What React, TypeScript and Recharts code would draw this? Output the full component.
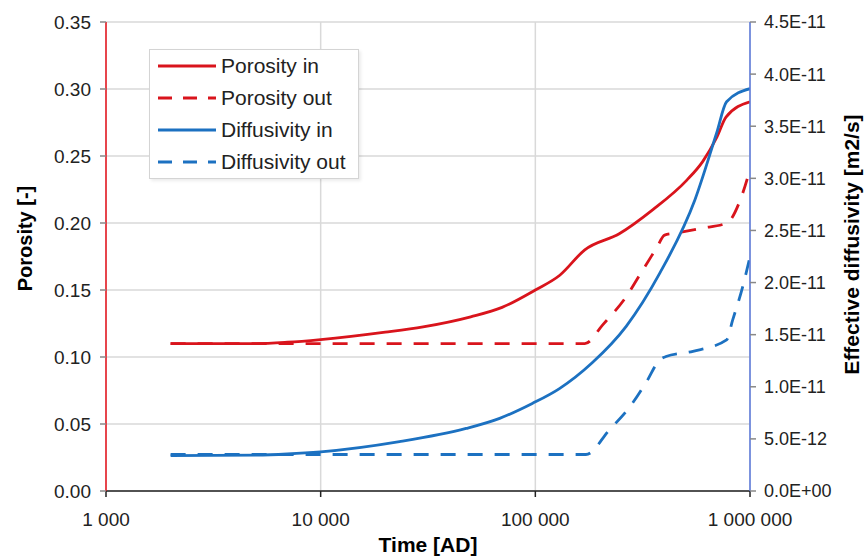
import React from 'react';
import { LineChart, Line, XAxis, YAxis, CartesianGrid, Legend } from 'recharts';

const FONT = '"Liberation Sans", Arial, sans-serif';
const RED = '#d9141c';
const BLUE = '#1c71c1';
const TEXT = '#222222';
const GRID = '#d9d9d9';

// time axis, years AD (log scale)
const timeTicks = [1000, 10000, 100000, 1000000];
const minorTimeTicks = [
  1000, 2000, 3000, 4000, 5000, 6000, 7000, 8000, 9000,
  10000, 20000, 30000, 40000, 50000, 60000, 70000, 80000, 90000,
  100000, 200000, 300000, 400000, 500000, 600000, 700000, 800000, 900000, 1000000,
];
const porosityTicks = [0, 0.05, 0.1, 0.15, 0.2, 0.25, 0.3, 0.35];
const diffusivityTicks = [0, 5e-12, 1e-11, 1.5e-11, 2e-11, 2.5e-11, 3e-11, 3.5e-11, 4e-11, 4.5e-11];

const legendOrder = ['Porosity in', 'Porosity out', 'Diffusivity in', 'Diffusivity out'];

// Porosity in
const porosityInTime = [2000, 5000, 7000, 10000, 20000, 30000, 50000, 70000, 100000, 130000, 170000, 246000, 353000, 508000, 603000, 701000, 773000, 1000000];
const porosityInValue = [0.11, 0.11, 0.111, 0.113, 0.1185, 0.1225, 0.13, 0.137, 0.15, 0.161, 0.18, 0.192, 0.21, 0.232, 0.246, 0.264, 0.279, 0.2905];

// Porosity out
const porosityOutTime = [2000, 170000, 206000, 265000, 314000, 369000, 400000, 454000, 590000, 780000, 900000, 1000000];
const porosityOutValue = [0.11, 0.11, 0.124, 0.145, 0.164, 0.182, 0.191, 0.1925, 0.196, 0.2, 0.217, 0.24];

// Diffusivity in
const diffusivityInTime = [2000, 5000, 7000, 10000, 23300, 47600, 68200, 96800, 129000, 184000, 265000, 380000, 553000, 698000, 778000, 1000000];
const diffusivityInValue = [3.4e-12, 3.45e-12, 3.55e-12, 3.75e-12, 4.73e-12, 6.0e-12, 6.97e-12, 8.4e-12, 9.8e-12, 1.23e-11, 1.58e-11, 2.09e-11, 2.79e-11, 3.43e-11, 3.735e-11, 3.86e-11];

// Diffusivity out
const diffusivityOutTime = [2000, 172000, 221000, 276000, 330000, 380000, 406000, 542000, 778000, 830000, 925000, 1000000];
const diffusivityOutValue = [3.5e-12, 3.5e-12, 5.85e-12, 8.1e-12, 1.05e-11, 1.26e-11, 1.29e-11, 1.34e-11, 1.45e-11, 1.64e-11, 1.96e-11, 2.25e-11];

const toPoints = (times: number[], values: number[]) => times.map((t, i) => ({ t, v: values[i] }));

const porosityIn = toPoints(porosityInTime, porosityInValue);
const porosityOut = toPoints(porosityOutTime, porosityOutValue);
const diffusivityIn = toPoints(diffusivityInTime, diffusivityInValue);
const diffusivityOut = toPoints(diffusivityOutTime, diffusivityOutValue);

const DASH = '15 12';

const formatTime = (v: number) => String(Math.round(v)).replace(/\B(?=(\d{3})+(?!\d))/g, ' ');
const formatPorosity = (v: number) => v.toFixed(2);
const formatDiffusivity = (v: number) => {
  if (v === 0) return '0.0E+00';
  const exp = Math.floor(Math.log10(v) + 1e-9);
  const mant = v / Math.pow(10, exp);
  const sign = exp < 0 ? '-' : '+';
  return `${mant.toFixed(1)}E${sign}${String(Math.abs(exp)).padStart(2, '0')}`;
};

const renderLegend = (props: any) => {
  const items = [...(props.payload || [])].sort(
    (a: any, b: any) => legendOrder.indexOf(a.value) - legendOrder.indexOf(b.value)
  );
  return (
    <div
      style={{
        border: '1px solid #d4d4d4',
        background: '#ffffff',
        boxShadow: '2px 2px 3px rgba(0,0,0,0.08)',
        padding: '0 0 0 8px',
        fontFamily: FONT,
        fontSize: 21,
        color: TEXT,
      }}
    >
      {items.map((entry: any) => (
        <div key={entry.value} style={{ display: 'flex', alignItems: 'center', height: 32 }}>
          <svg width={60} height={10} style={{ display: 'block' }}>
            <line
              x1={0}
              y1={5}
              x2={58}
              y2={5}
              stroke={entry.color}
              strokeWidth={3}
              strokeDasharray={entry.payload && entry.payload.strokeDasharray ? '14 11' : undefined}
            />
          </svg>
          <span style={{ marginLeft: 3, whiteSpace: 'nowrap' }}>{entry.value}</span>
        </div>
      ))}
    </div>
  );
};

export default function App() {
  return (
    <div style={{ position: 'absolute', left: 0, top: 0, background: '#ffffff' }}>
      <LineChart width={867} height={558} margin={{ top: 22, right: 0, bottom: 0, left: 0 }}>
        <CartesianGrid yAxisId="left" stroke={GRID} strokeWidth={1.5} />
        <XAxis
          type="number"
          dataKey="t"
          scale="log"
          domain={[1000, 1000000]}
          ticks={timeTicks}
          allowDataOverflow
          tickFormatter={formatTime}
          height={67}
          tickSize={6}
          tickMargin={16}
          axisLine={{ stroke: '#222', strokeWidth: 1.5 }}
          tickLine={{ stroke: '#222', strokeWidth: 1.5 }}
          tick={{ fill: TEXT, fontSize: 19, fontFamily: FONT }}
          label={{
            value: 'Time [AD]',
            position: 'insideBottom',
            offset: 6,
            style: { fill: '#000', fontSize: 21, fontWeight: 'bold', fontFamily: FONT },
          }}
        />
        <XAxis
          xAxisId="minor"
          type="number"
          dataKey="t"
          scale="log"
          domain={[1000, 1000000]}
          ticks={minorTimeTicks}
          allowDataOverflow
          mirror
          axisLine={false}
          tick={false}
          tickSize={5}
          tickLine={{ stroke: '#222', strokeWidth: 1.5 }}
        />
        <YAxis
          yAxisId="left"
          type="number"
          domain={[0, 0.35]}
          ticks={porosityTicks}
          tickFormatter={formatPorosity}
          width={106}
          tickSize={6}
          tickMargin={9}
          axisLine={{ stroke: '#e8101a', strokeWidth: 1.5 }}
          tickLine={{ stroke: '#888', strokeWidth: 1.5 }}
          tick={{ fill: TEXT, fontSize: 19, fontFamily: FONT }}
          label={{
            value: 'Porosity [-]',
            angle: -90,
            position: 'insideLeft',
            offset: 25,
            dy: -18,
            style: { textAnchor: 'middle', fill: '#000', fontSize: 20, fontWeight: 'bold', fontFamily: FONT },
          }}
        />
        <YAxis
          yAxisId="right"
          orientation="right"
          type="number"
          domain={[0, 4.5e-11]}
          ticks={diffusivityTicks}
          tickFormatter={formatDiffusivity}
          width={117}
          tickSize={6}
          tickMargin={8}
          axisLine={{ stroke: '#5a78dc', strokeWidth: 1.5 }}
          tickLine={{ stroke: '#888', strokeWidth: 1.5 }}
          tick={{ fill: TEXT, fontSize: 18, fontFamily: FONT }}
          label={{
            value: 'Effective diffusivity [m2/s]',
            angle: -90,
            position: 'insideRight',
            offset: 15,
            dy: -12,
            style: { textAnchor: 'middle', fill: '#000', fontSize: 21, fontWeight: 'bold', fontFamily: FONT },
          }}
        />
        <Legend
          layout="vertical"
          align="center"
          verticalAlign="middle"
          content={renderLegend}
          wrapperStyle={{ left: 149, top: 49, width: 210 }}
        />
        <Line
          yAxisId="left"
          data={porosityIn}
          dataKey="v"
          name="Porosity in"
          type="monotoneX"
          stroke={RED}
          strokeWidth={2.8}
          dot={false}
          isAnimationActive={false}
        />
        <Line
          yAxisId="left"
          data={porosityOut}
          dataKey="v"
          name="Porosity out"
          type="monotoneX"
          stroke={RED}
          strokeWidth={2.8}
          strokeDasharray={DASH}
          dot={false}
          isAnimationActive={false}
        />
        <Line
          yAxisId="right"
          data={diffusivityIn}
          dataKey="v"
          name="Diffusivity in"
          type="monotoneX"
          stroke={BLUE}
          strokeWidth={2.8}
          dot={false}
          isAnimationActive={false}
        />
        <Line
          yAxisId="right"
          data={diffusivityOut}
          dataKey="v"
          name="Diffusivity out"
          type="monotoneX"
          stroke={BLUE}
          strokeWidth={2.8}
          strokeDasharray={DASH}
          dot={false}
          isAnimationActive={false}
        />
      </LineChart>
    </div>
  );
}
